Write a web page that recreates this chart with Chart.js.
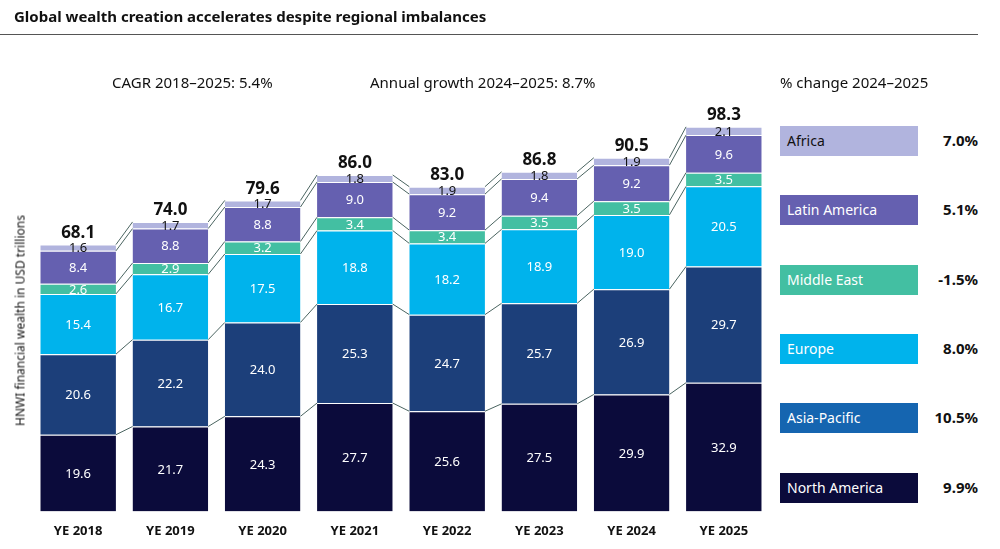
<!DOCTYPE html>
<html><head><meta charset="utf-8">
<script src="https://cdn.jsdelivr.net/npm/chart.js@4"></script>
<style>
body{margin:0;width:1000px;height:549px;background:#fff;font-family:"Noto Sans",sans-serif;position:relative;overflow:hidden}
.t{position:absolute;left:14px;top:6px;font-size:15px;font-weight:bold;color:#111}
.rule{position:absolute;left:0;top:34px;width:978px;border-top:1px solid #555}
.note{position:absolute;top:72px;font-size:15px;color:#111;z-index:2}
.yt{position:absolute;left:-120px;top:312px;width:280px;text-align:center;transform:rotate(-90deg);font-size:12px;color:#111}
#wrap{position:absolute;left:0;top:0;width:770px;height:549px}
.lg{position:absolute;left:780px;width:138px;height:30px;line-height:30px;padding-left:7px;box-sizing:border-box;font-size:14px}
.pc{position:absolute;left:920px;width:58px;text-align:right;font-size:15px;font-weight:bold;color:#111}
</style></head><body>
<div id="wrap"><canvas id="c" width="770" height="549"></canvas></div>
<div class="t">Global wealth creation accelerates despite regional imbalances</div>
<div class="rule"></div>
<div class="note" style="left:112px">CAGR 2018–2025: 5.4%</div>
<div class="note" style="left:370px">Annual growth 2024–2025: 8.7%</div>
<div class="note" style="left:780px">% change 2024–2025</div>
<div class="yt">HNWI financial wealth in USD trillions</div>
<div id="legend"></div>
<script>
const years = ['YE 2018','YE 2019','YE 2020','YE 2021','YE 2022','YE 2023','YE 2024','YE 2025'];
const northAmerica = [19.6,21.7,24.3,27.7,25.6,27.5,29.9,32.9];
const asiaPacific = [20.6,22.2,24.0,25.3,24.7,25.7,26.9,29.7];
const europe = [15.4,16.7,17.5,18.8,18.2,18.9,19.0,20.5];
const middleEast = [2.6,2.9,3.2,3.4,3.4,3.5,3.5,3.5];
const latinAmerica = [8.4,8.8,8.8,9.0,9.2,9.4,9.2,9.6];
const africa = [1.6,1.7,1.7,1.8,1.9,1.8,1.9,2.1];
const totals = [68.1,74.0,79.6,86.0,83.0,86.8,90.5,98.3];
const regions = ['Africa','Latin America','Middle East','Europe','Asia-Pacific','North America'];
const changes = ['7.0%','5.1%','-1.5%','8.0%','10.5%','9.9%'];

const series = [
  {label:'North America', data:northAmerica, color:'#0b0b3b', txt:'#fff'},
  {label:'Asia-Pacific', data:asiaPacific, color:'#1c3f7a', txt:'#fff'},
  {label:'Europe', data:europe, color:'#00b3ec', txt:'#fff'},
  {label:'Middle East', data:middleEast, color:'#43bfa2', txt:'#fff'},
  {label:'Latin America', data:latinAmerica, color:'#6560b0', txt:'#fff'},
  {label:'Africa', data:africa, color:'#b1b4de', txt:'#111'}
];
const legendColors = {'Africa':'#b1b4de','Latin America':'#6560b0','Middle East':'#43bfa2','Europe':'#00b3ec','Asia-Pacific':'#1565b0','North America':'#0b0b3b'};

// right-hand legend
const lg = document.getElementById('legend');
regions.forEach((r, i) => {
  const y = 126 + i * 69.3;
  const dark = r !== 'Africa';
  lg.innerHTML += `<div class="lg" style="top:${y}px;background:${legendColors[r]};color:${dark ? '#fff' : '#111'}">${r}</div>` +
    `<div class="pc" style="top:${y + 4}px">${changes[i]}</div>`;
});

const overlay = {
  id: 'overlay',
  afterDatasetsDraw(chart) {
    const ctx = chart.ctx;
    ctx.save();
    // connector lines
    ctx.strokeStyle = '#4a6460';
    ctx.lineWidth = 1;
    chart.data.datasets.forEach((ds, di) => {
      const els = chart.getDatasetMeta(di).data;
      for (let j = 0; j < els.length - 1; j++) {
        const a = els[j], b = els[j + 1];
        ctx.beginPath();
        ctx.moveTo(a.x + a.width / 2, a.y);
        ctx.lineTo(b.x - b.width / 2, b.y);
        ctx.stroke();
      }
    });
    // segment labels
    ctx.textAlign = 'center';
    ctx.textBaseline = 'middle';
    ctx.font = '13px "Noto Sans"';
    chart.data.datasets.forEach((ds, di) => {
      chart.getDatasetMeta(di).data.forEach((el, j) => {
        ctx.fillStyle = series[di].txt;
        ctx.fillText(ds.data[j].toFixed(1), el.x, (el.y + el.base) / 2 + 1);
      });
    });
    // totals
    const top = chart.getDatasetMeta(series.length - 1).data;
    ctx.font = 'bold 17px "Noto Sans"';
    ctx.fillStyle = '#111';
    ctx.textBaseline = 'bottom';
    top.forEach((el, j) => ctx.fillText(totals[j].toFixed(1), el.x, el.y - 3));
    ctx.restore();
  }
};

new Chart(document.getElementById('c'), {
  type: 'bar',
  data: {
    labels: years,
    datasets: series.map(s => ({
      label: s.label, data: s.data, backgroundColor: s.color,
      borderColor: '#fff', borderWidth: {top: 1}, borderSkipped: 'bottom',
      barPercentage: 0.82, categoryPercentage: 1
    }))
  },
  options: {
    responsive: false, animation: false,
    layout: {padding: {left: 32, right: 0, top: 85, bottom: 6}},
    plugins: {legend: {display: false}, tooltip: {enabled: false}},
    scales: {
      x: {stacked: true, grid: {display: false}, border: {display: false},
          ticks: {color: '#111', font: {size: 13, weight: 'bold', family: 'Noto Sans'}, padding: 4}},
      y: {stacked: true, display: false, min: 0, max: 109}
    }
  },
  plugins: [overlay]
});
</script>
</body></html>
